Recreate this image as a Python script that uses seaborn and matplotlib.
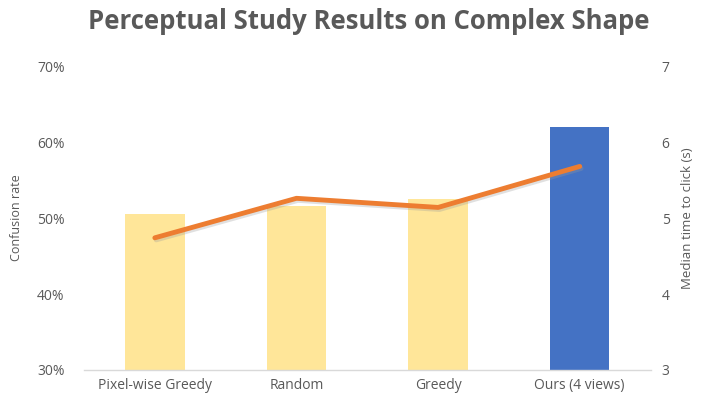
import matplotlib
matplotlib.use("Agg")
import matplotlib.pyplot as plt
import matplotlib.patheffects as pe
import seaborn as sns
import numpy as np

categories = ["Pixel-wise Greedy", "Random", "Greedy", "Ours (4 views)"]
confusion = [50.5, 51.6, 52.5, 62.0]
median_time = [4.74, 5.26, 5.14, 5.68]
bar_colors = ["#FFE699", "#FFE699", "#FFE699", "#4472C4"]
left_ticks = [30, 40, 50, 60, 70]
right_ticks = [3, 4, 5, 6, 7]

sns.set_theme(style="white")
plt.rcParams["font.family"] = ["Open Sans", "DejaVu Sans"]
TXT = "#595959"

fig = plt.figure(figsize=(7.02, 4.03), dpi=100)
ax = fig.add_axes([0.1197, 0.0819, 0.807, 0.754])

sns.barplot(x=categories, y=confusion, hue=categories, palette=bar_colors,
            legend=False, width=0.42, ax=ax, saturation=1, edgecolor="none")
ax.set_ylim(30, 70)
ax.set_yticks(left_ticks)
ax.set_yticklabels([f"{t}%" for t in left_ticks])
ax.set_xlim(-0.5, 3.5)
for s in ["top", "right", "left"]:
    ax.spines[s].set_visible(False)
ax.spines["bottom"].set_color("#D9D9D9")
ax.spines["bottom"].set_linewidth(1.0)
ax.tick_params(axis="both", length=0, colors=TXT, labelsize=10)
ax.tick_params(axis="y", pad=14)
ax.tick_params(axis="x", pad=6)
ax.set_ylabel("Confusion rate", color=TXT, fontsize=9, labelpad=10)

ax2 = ax.twinx()
sns.lineplot(x=categories, y=median_time, ax=ax2, color="#ED7D31", linewidth=3.5,
             sort=False, solid_capstyle="round",
             path_effects=[pe.SimpleLineShadow(offset=(1, -1.5), shadow_color="#999999", alpha=0.3),
                           pe.Normal()])
ax2.set_ylim(3, 7)
ax2.set_yticks(right_ticks)
ax2.set_xlim(-0.5, 3.5)
for s in ["top", "right", "left", "bottom"]:
    ax2.spines[s].set_visible(False)
ax2.tick_params(axis="y", length=0, colors=TXT, labelsize=10, pad=8)
ax2.set_ylabel("Median time to click (s)", color=TXT, fontsize=9.5, labelpad=8)

fig.suptitle("Perceptual Study Results on Complex Shape", x=0.525, y=0.98,
             fontsize=18.5, fontweight="bold", color=TXT)

fig.savefig("out.png", dpi=100)
